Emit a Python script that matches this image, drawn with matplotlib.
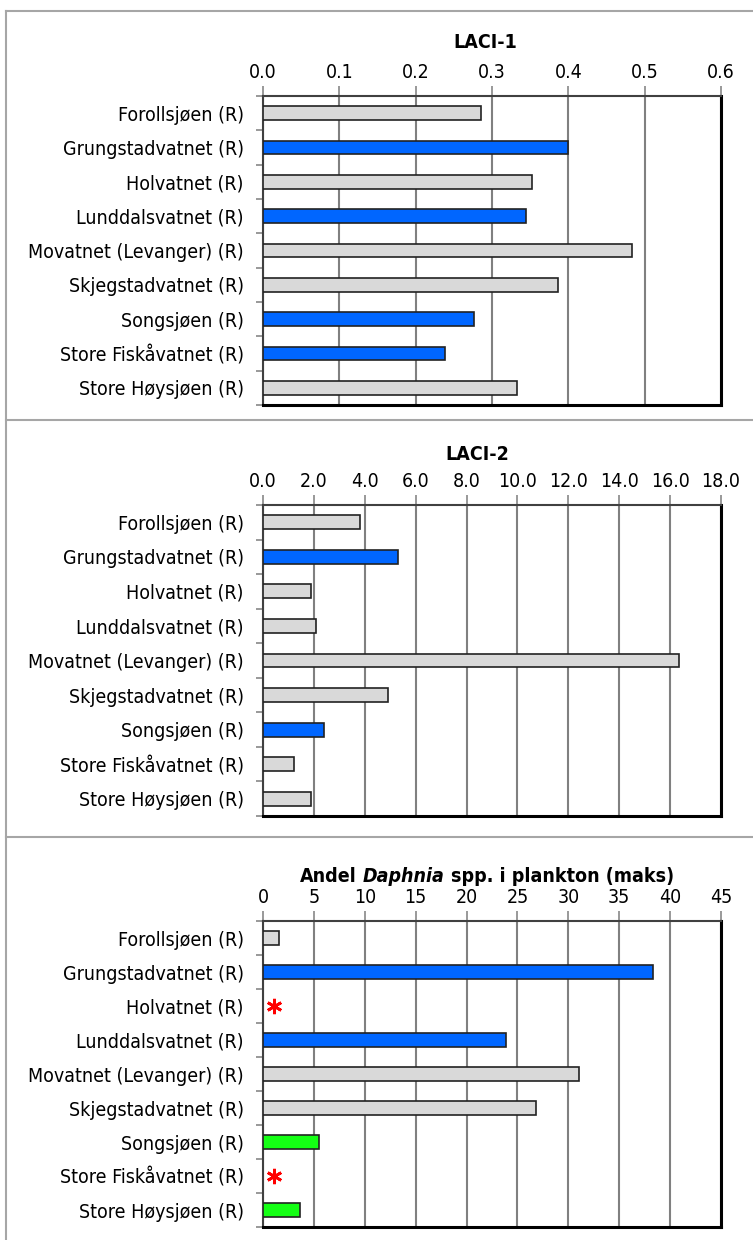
import numpy as np
import matplotlib
matplotlib.use('Agg')
import matplotlib.pyplot as plt
from matplotlib.lines import Line2D
from matplotlib.ticker import MultipleLocator, FormatStrFormatter

plt.rcParams['font.family'] = 'DejaVu Sans'
plt.rcParams['font.stretch'] = 'condensed'

lakes = ['Forollsjøen (R)', 'Grungstadvatnet (R)', 'Holvatnet (R)', 'Lunddalsvatnet (R)',
         'Movatnet (Levanger) (R)', 'Skjegstadvatnet (R)', 'Songsjøen (R)',
         'Store Fiskåvatnet (R)', 'Store Høysjøen (R)']

# LACI-1
laci1 = [0.286, 0.400, 0.353, 0.344, 0.484, 0.387, 0.276, 0.239, 0.333]
laci1_class = ['grey', 'blue', 'grey', 'blue', 'grey', 'grey', 'blue', 'blue', 'grey']

# LACI-2
laci2 = [3.8, 5.3, 1.9, 2.1, 16.35, 4.9, 2.4, 1.2, 1.9]
laci2_class = ['grey', 'blue', 'grey', 'grey', 'grey', 'grey', 'blue', 'grey', 'grey']

# max share of Daphnia in plankton (%), nan = no data (marked with red star)
daphnia = [1.6, 38.3, np.nan, 23.9, 31.0, 26.8, 5.5, np.nan, 3.6]
daphnia_class = ['grey', 'blue', None, 'blue', 'grey', 'grey', 'green', None, 'green']

colors = {'grey': '#d9d9d9', 'blue': '#0066ff', 'green': '#14ff14'}
FS = 14

W, H = 753, 1240
fig = plt.figure(figsize=(W / 100, H / 100), dpi=100)


def fx(px):
    return px / W


def fy(py):
    return 1 - py / H


def draw_panel(top, bottom, values, classes, xmax, step, fmt):
    ax = fig.add_axes([fx(263), fy(bottom), fx(721) - fx(263), fy(top) - fy(bottom)])
    y = np.arange(len(lakes))
    for yi, v, c in zip(y, values, classes):
        if np.isnan(v):
            ax.plot(1.1 * xmax / 45, yi, marker=(6, 2, 0), ms=11, mew=2,
                    color='red', zorder=4)
        else:
            ax.barh(yi, v, height=0.4, color=colors[c],
                    edgecolor='#222222', linewidth=1.2, zorder=3)
    ax.set_xlim(0, xmax)
    ax.set_ylim(len(lakes) - 0.5, -0.5)
    ax.xaxis.tick_top()
    ax.xaxis.set_major_locator(MultipleLocator(step))
    ax.xaxis.set_major_formatter(FormatStrFormatter(fmt))
    ax.tick_params(axis='x', length=7, width=1.2, color='#888888', pad=3, labelsize=FS)
    ax.set_yticks(y)
    ax.set_yticklabels(lakes, fontsize=FS)
    ax.set_yticks(np.arange(-0.5, len(lakes)), minor=True)
    ax.tick_params(axis='y', which='major', length=0, pad=14)
    ax.tick_params(axis='y', which='minor', length=5, width=1.2, color='#888888')
    ax.grid(axis='x', color='#808080', linewidth=1.5, zorder=0)
    ax.set_axisbelow(True)
    for side in ('left', 'top'):
        ax.spines[side].set_color('#404040')
        ax.spines[side].set_linewidth(1.5)
    for side in ('right', 'bottom'):
        ax.spines[side].set_color('black')
        ax.spines[side].set_linewidth(2.2)
    return ax


draw_panel(96, 405, laci1, laci1_class, 0.6, 0.1, '%.1f')
draw_panel(505, 816, laci2, laci2_class, 18, 2, '%.1f')
draw_panel(921, 1227, daphnia, daphnia_class, 45, 5, '%d')

fig.text(fx(485), fy(43), 'LACI-1', ha='center', va='center', fontsize=FS, fontweight='bold')
fig.text(fx(477), fy(455), 'LACI-2', ha='center', va='center', fontsize=FS, fontweight='bold')

# third title: genus name in italics, pieces laid out side by side
renderer = fig.canvas.get_renderer()
parts = [('Andel', 'normal'), ('Daphnia', 'italic'), ('spp. i plankton (maks)', 'normal')]
pieces = [fig.text(0, fy(876), s, style=st, fontweight='bold', fontsize=FS,
                   ha='left', va='center') for s, st in parts]
probe = fig.text(0, 0, 'a a', fontweight='bold', fontsize=FS)
probe2 = fig.text(0, 0, 'aa', fontweight='bold', fontsize=FS)
space = (probe.get_window_extent(renderer).width
         - probe2.get_window_extent(renderer).width)
probe.remove()
probe2.remove()
widths = [p.get_window_extent(renderer).width for p in pieces]
x = 487 - (sum(widths) + 2 * space) / 2
for p, w in zip(pieces, widths):
    p.set_x(fx(x))
    x += w + space

# cell borders around the three panels
frame = dict(transform=fig.transFigure, color='#a6a6a6', linewidth=1.5)
fig.add_artist(Line2D([fx(6), 1], [fy(11), fy(11)], **frame))
fig.add_artist(Line2D([fx(6), fx(6)], [fy(11), 0], **frame))
fig.add_artist(Line2D([fx(6), 1], [fy(420), fy(420)], **frame))
fig.add_artist(Line2D([fx(6), 1], [fy(837), fy(837)], **frame))

fig.savefig('out.png', dpi=100)
